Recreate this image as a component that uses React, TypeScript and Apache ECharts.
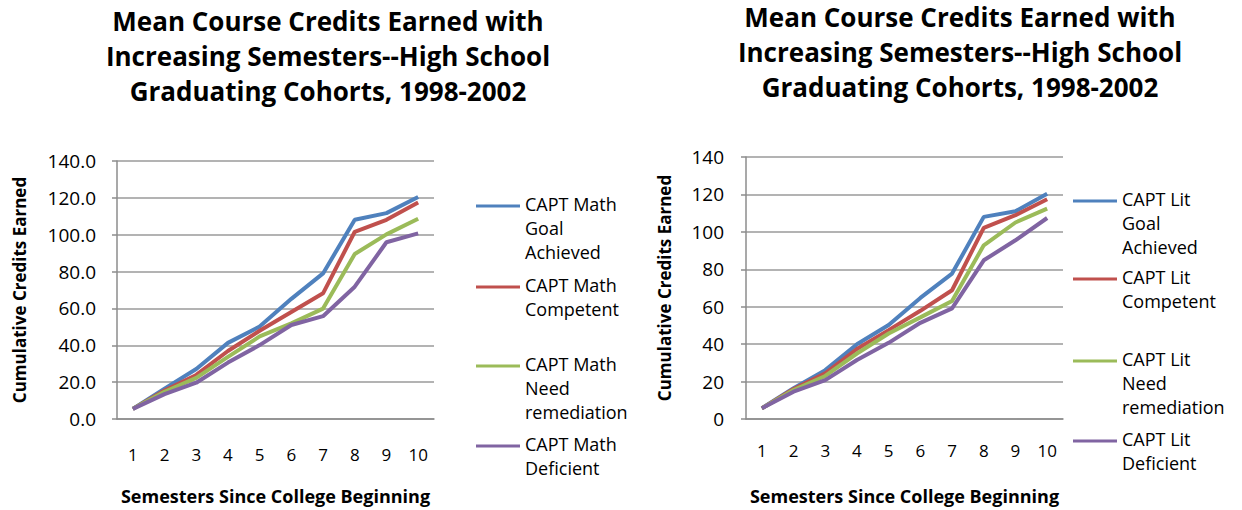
import React, { useEffect, useRef } from "react";
import * as echarts from "echarts";

const semesters = ["1", "2", "3", "4", "5", "6", "7", "8", "9", "10"];

const mathNames = [
  "CAPT Math Goal Achieved",
  "CAPT Math Competent",
  "CAPT Math Need remediation",
  "CAPT Math Deficient",
];
const litNames = [
  "CAPT Lit Goal Achieved",
  "CAPT Lit Competent",
  "CAPT Lit Need remediation",
  "CAPT Lit Deficient",
];
const mathLegendLines = [
  ["CAPT Math", "Goal", "Achieved"],
  ["CAPT Math", "Competent"],
  ["CAPT Math", "Need", "remediation"],
  ["CAPT Math", "Deficient"],
];
const litLegendLines = [
  ["CAPT Lit", "Goal", "Achieved"],
  ["CAPT Lit", "Competent"],
  ["CAPT Lit", "Need", "remediation"],
  ["CAPT Lit", "Deficient"],
];

const mathGoal = [5.5, 16.5, 27.1, 41.3, 50.2, 65.2, 79.0, 108.1, 111.7, 120.5];
const mathCompetent = [5.5, 15.5, 23.9, 36.9, 47.9, 58.1, 68.2, 101.6, 108.1, 117.5];
const mathNeed = [5.5, 14.8, 22.3, 33.7, 44.8, 51.9, 59.9, 89.5, 100.2, 108.7];
const mathDeficient = [5.5, 13.5, 19.7, 30.6, 40.1, 51.0, 55.8, 71.8, 95.9, 100.7];

const litGoal = [5.7, 16.4, 26.1, 39.9, 50.2, 64.7, 77.7, 108.0, 111.0, 120.4];
const litCompetent = [5.7, 16.0, 24.4, 37.4, 47.5, 57.8, 68.8, 102.1, 108.9, 117.4];
const litNeed = [5.7, 15.5, 23.0, 35.0, 45.7, 54.3, 63.1, 92.8, 105.0, 112.4];
const litDeficient = [5.7, 14.6, 20.8, 31.5, 40.7, 51.4, 59.1, 84.8, 95.5, 107.4];

const colors = ["#4F81BD", "#C0504D", "#9BBB59", "#8064A2"];
const titleText = "Mean Course Credits Earned with\nIncreasing Semesters--High School\nGraduating Cohorts, 1998-2002";
const FONT = "'Open Sans'";

export default function App() {
  const ref = useRef<HTMLDivElement>(null);
  useEffect(() => {
    if (!ref.current) return;
    const chart = echarts.init(ref.current, null, { renderer: "svg" });

    const makeX = (gridIndex: number, margin: number) => ({
      type: "category",
      gridIndex,
      data: semesters,
      boundaryGap: true,
      axisLine: { show: true, lineStyle: { color: "#8c8c8c", width: 1.5 } },
      axisTick: { show: false },
      axisLabel: { color: "#000", fontSize: 17, fontFamily: FONT, margin },
      name: "Semesters Since College Beginning",
      nameLocation: "middle",
      nameGap: 68,
      nameTextStyle: { color: "#000", fontSize: 18, fontWeight: "bold", fontFamily: FONT },
    });
    const makeY = (gridIndex: number, dec: number, margin: number, nameGap: number) => ({
      type: "value",
      gridIndex,
      min: 0,
      max: 140,
      interval: 20,
      axisLine: { show: true, lineStyle: { color: "#8c8c8c", width: 1.5 } },
      axisTick: { show: true, length: 5, lineStyle: { color: "#8c8c8c", width: 1.5 } },
      splitLine: { show: true, lineStyle: { color: "#9a9a9a", width: 1.5 } },
      axisLabel: {
        color: "#000",
        fontSize: 19,
        fontFamily: FONT,
        margin,
        formatter: (v: number) => v.toFixed(dec),
      },
      name: "Cumulative Credits Earned",
      nameLocation: "middle",
      nameGap,
      nameMoveOverlap: false,
      nameTextStyle: { color: "#000", fontSize: 17, fontWeight: "bold", fontFamily: FONT },
    });

    const mkSeries = (names: string[], data: number[][], idx: number) =>
      names.map((n, i) => ({
        type: "line",
        name: n,
        xAxisIndex: idx,
        yAxisIndex: idx,
        data: data[i],
        symbol: "none",
        lineStyle: { color: colors[i], width: 4 },
        itemStyle: { color: colors[i] },
      }));

    const legendGraphic = (lines: string[][], x: number, ys: number[]) =>
      lines.flatMap((ls, i) => [
        {
          type: "line",
          shape: { x1: x, y1: ys[i], x2: x + 44, y2: ys[i] },
          style: { stroke: colors[i], lineWidth: 3 },
        },
        {
          type: "text",
          x: x + 49,
          y: ys[i] - 14,
          style: {
            text: ls.join("\n"),
            fill: "#000",
            font: `18px ${FONT}`,
            lineHeight: 24,
          },
        },
      ]);

    const titleStyle = {
      fontSize: 26,
      fontWeight: "bold",
      fontFamily: FONT,
      color: "#000",
      lineHeight: 35,
    };

    chart.setOption({
      animation: false,
      backgroundColor: "#fff",
      title: [
        { text: titleText, left: 323, top: -2, textAlign: "center", textStyle: titleStyle },
        { text: titleText, left: 955, top: -6, textAlign: "center", textStyle: titleStyle },
      ],
      grid: [
        { left: 117, top: 161, width: 317, height: 263 },
        { left: 746, top: 157, width: 317, height: 262 },
      ],
      xAxis: [makeX(0, 27), makeX(1, 23)],
      yAxis: [makeY(0, 1, 21, 89), makeY(1, 0, 22, 73)],
      series: [
        ...mkSeries(mathNames, [mathGoal, mathCompetent, mathNeed, mathDeficient], 0),
        ...mkSeries(litNames, [litGoal, litCompetent, litNeed, litDeficient], 1),
      ],
      graphic: [
        ...legendGraphic(mathLegendLines, 476, [206, 287, 366, 446]),
        ...legendGraphic(litLegendLines, 1073, [201, 279, 361, 441]),
      ],
    });
    return () => chart.dispose();
  }, []);
  return (
    <div
      ref={ref}
      style={{ position: "absolute", left: 0, top: 0, width: 1242, height: 510 }}
    />
  );
}
